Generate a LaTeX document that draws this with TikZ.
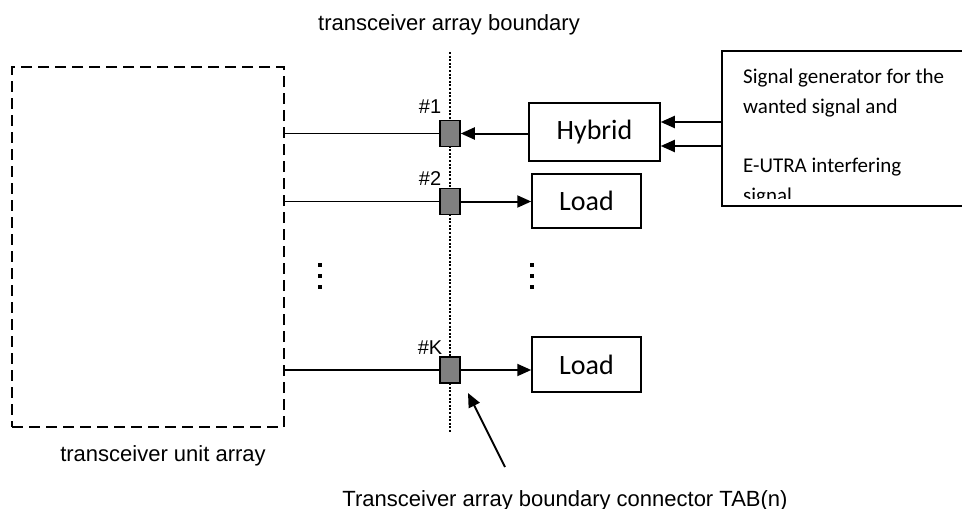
\documentclass[tikz,border=0pt]{standalone}
\usepackage{fontspec}
\setmainfont{Liberation Sans}
\newfontfamily\carl{Carlito}
\usetikzlibrary{arrows.meta}
\definecolor{tabgray}{RGB}{128,128,128}
\begin{document}
\begin{tikzpicture}[x=1pt,y=-1pt,
  lbl/.style={font=\fontsize{22}{26}\selectfont, inner sep=0pt, anchor=base},
  num/.style={font=\fontsize{20}{22}\selectfont, inner sep=0pt, anchor=base},
  tab/.style={draw=black, line width=1.5pt, fill=tabgray, minimum width=20pt, minimum height=26pt, inner sep=0pt},
  blk/.style={draw=black, line width=1.5pt, inner sep=0pt, font=\carl\fontsize{28}{30}\selectfont},
  gtxt/.style={font=\carl\fontsize{21}{24}\selectfont, inner sep=0pt, anchor=base west},
  wire/.style={line width=1.7pt},
  arr/.style={line width=2pt, -{Triangle[length=14pt,width=12pt]}}
]
\useasboundingbox (0,0) rectangle (962,509);

% transceiver unit array (dashed)
\node[draw=black, line width=1.6pt, dash pattern=on 11pt off 6pt, minimum width=272pt, minimum height=360pt, inner sep=0pt] (tua) at (148,247) {};

% boundary (dotted)
\coordinate (bt) at (450,52);
\coordinate (bb) at (450,433);
\draw[line width=2.6pt, dash pattern=on 2pt off 1.6pt] (bt) -- (bb);

% connectors
\node[tab] (c1) at (450,133.5) {};
\node[tab] (c2) at (450,201.5) {};
\node[tab] (cK) at (450,370) {};

\node[num] (n1) at (430,113) {\#1};
\node[num] (n2) at (430,185) {\#2};
\node[num] (nK) at (430,354) {\#K};

% blocks
\node[blk, minimum width=131pt, minimum height=58pt] (hyb) at (594.5,132) {Hybrid};
\node[blk, minimum width=109pt, minimum height=54pt] (ld2) at (586.5,201) {Load};
\node[blk, minimum width=109pt, minimum height=55pt] (ldK) at (586.5,364.5) {Load};

% wires from unit array
\draw[wire] (c1.west -| tua.east) -- (c1.west);
\draw[wire] (c2.west -| tua.east) -- (c2.west);
\draw[wire] (cK.west -| tua.east) -- (cK.west);

% arrows
\draw[arr] (c1.east -| hyb.west) -- (c1.east);
\draw[arr] (c2.east) -- (c2.east -| ld2.west);
\draw[arr] (cK.east) -- (cK.east -| ldK.west);

% signal generator box (cut at right edge)
\coordinate (gtr) at (962,51);
\coordinate (gtl) at (722,51);
\coordinate (gbl) at (722,206);
\coordinate (gbr) at (962,206);
\draw[line width=1.7pt] (gtr) -- (gtl) -- (gbl) -- (gbr);
\begin{scope}
\clip (722,51) rectangle (962,198.5);
\node[gtxt] (s1) at (743,83) {Signal generator for the};
\node[gtxt] (s2) at (743,113) {wanted signal and};
\node[gtxt] (s3) at (743,172) {E-UTRA interfering};
\node[gtxt] (s4) at (743,202) {signal};
\end{scope}
\coordinate (g1) at (722,122);
\coordinate (g2) at (722,146);
\draw[arr] (g1) -- (g1 -| hyb.east);
\draw[arr] (g2) -- (g2 -| hyb.east);

% vertical ellipses
\foreach \yy in {265,276,287} {
  \fill (318,\yy-2) rectangle (322,\yy+2);
  \fill (530,\yy-2) rectangle (534,\yy+2);
}

% pointer
\coordinate (ptail) at (505,467);
\coordinate (ptip) at (468,393);
\draw[arr] (ptail) -- (ptip);

% labels
\node[lbl] (tl) at (449,30) {transceiver array boundary};
\node[lbl] (ul) at (163,461) {transceiver unit array};
\node[lbl] (bl) at (565,506) {Transceiver array boundary connector TAB(n)};
\end{tikzpicture}
\end{document}
